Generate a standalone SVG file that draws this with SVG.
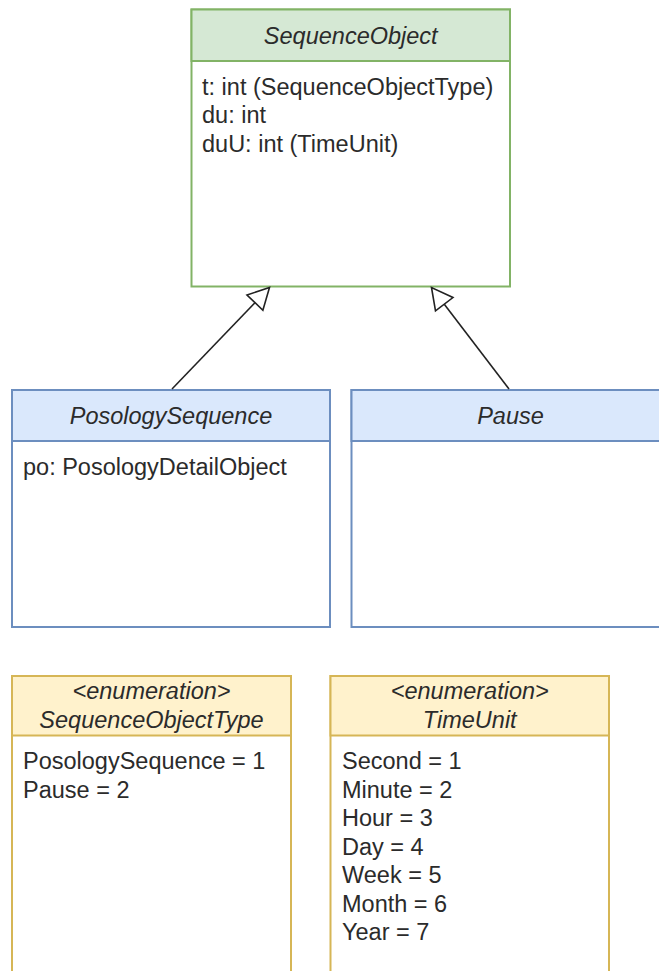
<svg xmlns="http://www.w3.org/2000/svg" width="659" height="971" viewBox="0 0 659 971">
  <style>
    text { font-family: "Liberation Sans", Arial, sans-serif; font-size: 23.5px; fill: #2b2b2b; }
    .title { font-style: italic; text-anchor: middle; }
    .body { fill: #ffffff; stroke-width: 2; }
    .green .frame { stroke: #82b366; }
    .green .head { fill: #d5e8d4; stroke: #82b366; stroke-width: 2; }
    .blue .frame { stroke: #6c8ebf; }
    .blue .head { fill: #dae8fc; stroke: #6c8ebf; stroke-width: 2; }
    .yellow .frame { stroke: #d6b656; }
    .yellow .head { fill: #fff2cc; stroke: #d6b656; stroke-width: 2; }
    .edge { fill: none; stroke: #222222; stroke-width: 1.6; marker-end: url(#inherit); }
  </style>
  <defs>
    <!-- hollow triangle for generalization -->
    <marker id="inherit" markerUnits="userSpaceOnUse" markerWidth="26" markerHeight="26" refX="22" refY="11" orient="auto" overflow="visible">
      <path d="M1,0 L22,11 L1,22 Z" fill="#ffffff" stroke="#222222" stroke-width="1.6" stroke-linejoin="miter"/>
    </marker>
  </defs>

  <rect x="0" y="0" width="659" height="971" fill="#ffffff"/>

  <!-- SequenceObject -->
  <g id="sequence-object" class="green">
    <rect class="body frame" x="191.5" y="9.5" width="318.5" height="277"/>
    <rect class="head" x="191.5" y="9.5" width="318.5" height="51.5"/>
    <text class="title" x="350.75" y="43.5">SequenceObject</text>
    <text x="202" y="94.5">t: int (SequenceObjectType)</text>
    <text x="202" y="123">du: int</text>
    <text x="202" y="151.5">duU: int (TimeUnit)</text>
  </g>

  <!-- PosologySequence -->
  <g id="posology-sequence" class="blue">
    <rect class="body frame" x="12" y="390" width="318" height="237"/>
    <rect class="head" x="12" y="390" width="318" height="51"/>
    <text class="title" x="171" y="424">PosologySequence</text>
    <text x="23" y="475">po: PosologyDetailObject</text>
  </g>

  <!-- Pause -->
  <g id="pause" class="blue">
    <rect class="body frame" x="351.5" y="390" width="318" height="237"/>
    <rect class="head" x="351.5" y="390" width="318" height="51"/>
    <text class="title" x="510.5" y="424">Pause</text>
  </g>

  <!-- SequenceObjectType enumeration -->
  <g id="sequence-object-type" class="yellow">
    <rect class="body frame" x="12" y="676" width="279" height="310"/>
    <rect class="head" x="12" y="676" width="279" height="59.5"/>
    <text class="title" x="151.5" y="698.5">&lt;enumeration&gt;</text>
    <text class="title" x="151.5" y="727.5">SequenceObjectType</text>
    <text x="23" y="769">PosologySequence = 1</text>
    <text x="23" y="797.5">Pause = 2</text>
  </g>

  <!-- TimeUnit enumeration -->
  <g id="time-unit" class="yellow">
    <rect class="body frame" x="330.5" y="676" width="278.5" height="310"/>
    <rect class="head" x="330.5" y="676" width="278.5" height="59.5"/>
    <text class="title" x="469.75" y="698.5">&lt;enumeration&gt;</text>
    <text class="title" x="469.75" y="727.5">TimeUnit</text>
    <text x="342" y="769">Second = 1</text>
    <text x="342" y="797.5">Minute = 2</text>
    <text x="342" y="826">Hour = 3</text>
    <text x="342" y="854.5">Day = 4</text>
    <text x="342" y="883">Week = 5</text>
    <text x="342" y="911.5">Month = 6</text>
    <text x="342" y="940">Year = 7</text>
  </g>

  <!-- generalization connectors -->
  <g id="connectors">
    <path class="edge" d="M172,389 L269.5,287.5"/>
    <path class="edge" d="M509,389 L431.5,287.5"/>
  </g>
</svg>
